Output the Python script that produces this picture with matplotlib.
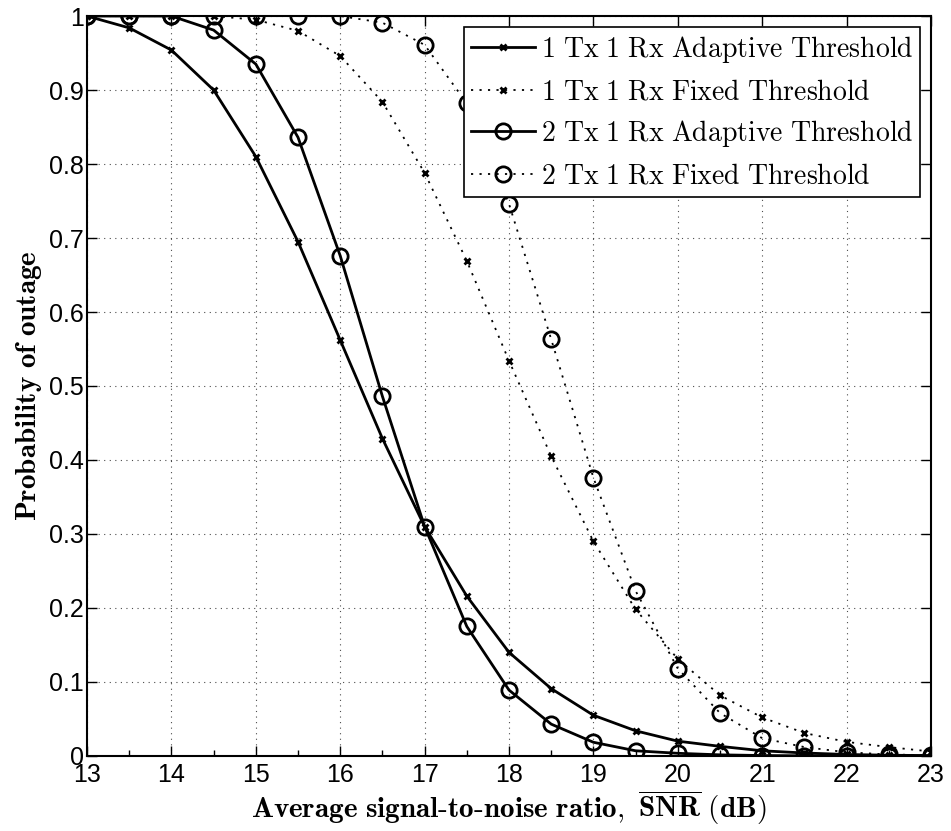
import numpy as np
import matplotlib
matplotlib.use("Agg")
import matplotlib.pyplot as plt
from matplotlib.ticker import MultipleLocator

plt.rcParams['mathtext.fontset'] = 'cm'

snr = [13, 13.5, 14, 14.5, 15, 15.5, 16, 16.5, 17, 17.5, 18, 18.5, 19, 19.5,
       20, 20.5, 21, 21.5, 22, 22.5, 23]

adapt_1x1 = [1.0, 0.984, 0.954, 0.90, 0.81, 0.695, 0.562, 0.429, 0.31, 0.216,
             0.140, 0.091, 0.055, 0.034, 0.020, 0.013, 0.007, 0.004, 0.002,
             0.001, 0.0005]
fixed_1x1 = [1.0, 1.0, 1.0, 1.0, 0.995, 0.98, 0.946, 0.884, 0.788, 0.669,
             0.534, 0.405, 0.29, 0.198, 0.131, 0.082, 0.052, 0.031, 0.019,
             0.012, 0.006]
adapt_2x1 = [1.0, 1.0, 1.0, 0.981, 0.935, 0.836, 0.676, 0.486, 0.31, 0.175,
             0.089, 0.043, 0.0185, 0.007, 0.0036, 0.0015, 0.0006, 0.0002,
             0.0001, 0.0, 0.0]
fixed_2x1 = [1.0, 1.0, 1.0, 1.0, 1.0, 1.0, 1.0, 0.991, 0.961, 0.882, 0.746,
             0.563, 0.376, 0.223, 0.118, 0.058, 0.024, 0.012, 0.005, 0.002,
             0.001]

labels = [r'$\mathrm{1\ Tx\ 1\ Rx\ Adaptive\ Threshold}$',
          r'$\mathrm{1\ Tx\ 1\ Rx\ Fixed\ Threshold}$',
          r'$\mathrm{2\ Tx\ 1\ Rx\ Adaptive\ Threshold}$',
          r'$\mathrm{2\ Tx\ 1\ Rx\ Fixed\ Threshold}$']

fig = plt.figure(figsize=(9.51, 8.31), dpi=100)
ax = fig.add_axes([0.0915, 0.0903, 0.8875, 0.8904])

dots = (0, (1.2, 3.5))
ax.plot(snr, adapt_1x1, 'k-', marker='x', ms=5, mew=2, lw=2, label=labels[0])
ax.plot(snr, fixed_1x1, color='k', ls=dots, marker='x', ms=5, mew=2, lw=1.3,
        label=labels[1])
ax.plot(snr, adapt_2x1, 'k-', marker='o', ms=11, mfc='none', mew=2, lw=2,
        label=labels[2])
ax.plot(snr, fixed_2x1, color='k', ls=dots, marker='o', ms=11, mfc='none',
        mew=2, lw=1.3, label=labels[3])

ax.set_xlim(13, 23)
ax.set_ylim(0, 1)
ax.set_xticks(np.arange(13, 24, 1))
ax.set_yticks(np.arange(0, 1.01, 0.1))
ax.set_yticklabels(['0', '0.1', '0.2', '0.3', '0.4', '0.5', '0.6', '0.7',
                    '0.8', '0.9', '1'])
ax.xaxis.set_minor_locator(MultipleLocator(0.5))
ax.tick_params(axis='both', which='major', direction='in', length=7,
               width=1, top=True, right=True, labelsize=18, pad=2)
ax.tick_params(axis='x', which='major', pad=5)
ax.tick_params(axis='x', which='minor', direction='in', length=4,
               width=1, top=False, bottom=True)
for lab in ax.get_xticklabels() + ax.get_yticklabels():
    lab.set_fontfamily('Liberation Sans')
for s in ax.spines.values():
    s.set_linewidth(1.5)

ax.grid(True, which='major', linestyle=(0, (1, 4)), color='k', lw=0.8,
        alpha=0.7)

ax.set_xlabel(r'$\mathbf{Average\ signal\text{-}to\text{-}noise\ ratio,\ \overline{SNR}\ (dB)}$',
              fontsize=21, labelpad=1)
ax.set_ylabel(r'$\mathbf{Probability\ of\ outage}$', fontsize=21, labelpad=4)

leg = ax.legend(loc='upper right', fontsize=20, fancybox=False,
                edgecolor='k', framealpha=1, borderaxespad=0.4,
                handlelength=2.3, handletextpad=0.2, labelspacing=0.45,
                borderpad=0.25)
leg.get_frame().set_linewidth(1.2)

fig.savefig('out.png', dpi=100)
